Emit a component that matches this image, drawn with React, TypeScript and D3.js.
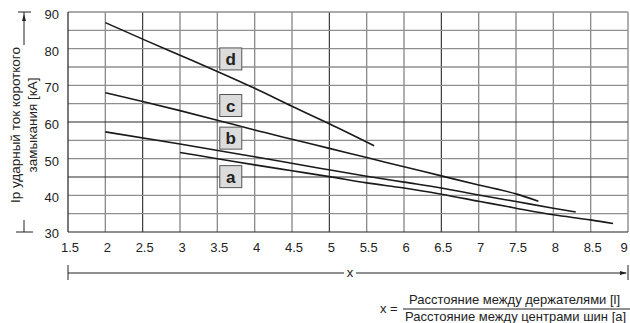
import * as d3 from "d3";
import { useEffect, useRef } from "react";

// x ticks and y ticks
const xTicks = [1.5, 2, 2.5, 3, 3.5, 4, 4.5, 5, 5.5, 6, 6.5, 7, 7.5, 8, 8.5, 9];
const yTicks = [30, 40, 50, 60, 70, 80, 90];
const yGrid = [35, 40, 45, 50, 55, 60, 65, 70, 75, 80, 85, 90];
const darkX = [2.5, 5, 6.5];
const darkY = [45, 60];

// curves
const seriesNames = ["a", "b", "c", "d"];
const xA = [3, 3.5, 4, 4.5, 5, 5.5, 6, 6.5, 7, 7.5, 8, 8.5, 8.8];
const yA = [51.7, 50.0, 48.3, 46.7, 45.1, 43.4, 42.0, 40.3, 38.4, 36.5, 34.7, 33.3, 32.3];
const xB = [2, 3, 4, 4.87, 5.5, 6, 6.5, 7, 7.5, 8, 8.3];
const yB = [57.3, 54.0, 50.5, 47.4, 45.2, 43.6, 42.0, 40.1, 38.3, 36.5, 35.45];
const xC = [2, 2.5, 3, 3.5, 4, 4.5, 5, 5.5, 6, 6.5, 7, 7.5, 7.8];
const yC = [68.0, 65.6, 63.1, 60.5, 57.8, 55.3, 52.8, 50.3, 47.8, 45.3, 42.8, 40.4, 38.4];
const xD = [2, 2.5, 3, 3.5, 4, 4.5, 5, 5.6];
const yD = [87.1, 82.6, 78.2, 73.8, 69.2, 64.3, 59.5, 53.5];

// label boxes (data coords of box centres)
const labelX = [3.68, 3.68, 3.68, 3.68];
const labelY = [45.1, 55.6, 64.5, 77.2];

const yTitle = ["Ip ударный ток короткого", "замыкания [кА]"];
const xName = "x";
const formulaTop = "Расстояние между держателями [l]";
const formulaBottom = "Расстояние между центрами шин [a]";

const FONT = "'Liberation Sans', Arial, sans-serif";

const App = () => {
    const ref = useRef(null);

    useEffect(() => {
        const svg = d3.select(ref.current);
        svg.selectAll("*").remove();

        const margin = { left: 68, right: 2, top: 12, bottom: 91 };
        const W = 630, H = 323;

        const x = d3.scaleLinear().domain([1.5, 9]).range([margin.left, W - margin.right]);
        const y = d3.scaleLinear().domain([30, 90]).range([H - margin.bottom, margin.top]);

        svg.append("rect").attr("width", W).attr("height", H).attr("fill", "#fff");

        // grid
        const g = svg.append("g");
        g.selectAll(".vg")
            .data(xTicks.slice(1))
            .enter()
            .append("line")
            .attr("x1", d => x(d)).attr("x2", d => x(d))
            .attr("y1", y(90)).attr("y2", y(30))
            .attr("stroke", d => darkX.includes(d) ? "#2a2a2a" : "#8f8f8f")
            .attr("stroke-width", d => darkX.includes(d) ? 1.1 : 1.4);
        g.selectAll(".hg")
            .data(yGrid)
            .enter()
            .append("line")
            .attr("x1", x(1.5)).attr("x2", x(9))
            .attr("y1", d => y(d)).attr("y2", d => y(d))
            .attr("stroke", d => darkY.includes(d) ? "#2a2a2a" : "#8f8f8f")
            .attr("stroke-width", d => darkY.includes(d) ? 1.1 : 1.4);

        // axes lines
        g.append("line")
            .attr("x1", x(1.5)).attr("x2", x(1.5))
            .attr("y1", y(90)).attr("y2", y(30))
            .attr("stroke", "#222").attr("stroke-width", 1.2);
        g.append("line")
            .attr("x1", x(1.5)).attr("x2", x(9))
            .attr("y1", y(30)).attr("y2", y(30))
            .attr("stroke", "#222").attr("stroke-width", 1.2);

        // tick labels
        svg.selectAll(".xl")
            .data(xTicks)
            .enter()
            .append("text")
            .attr("x", d => Math.min(x(d) + 2, W - 6))
            .attr("y", y(30) + 20)
            .attr("text-anchor", "middle")
            .attr("font-family", FONT)
            .attr("font-size", 13)
            .attr("fill", "#222")
            .text(d => d);
        svg.selectAll(".yl")
            .data(yTicks)
            .enter()
            .append("text")
            .attr("x", 59)
            .attr("y", d => y(d) + (d === 30 ? 6 : 7))
            .attr("text-anchor", "end")
            .attr("font-family", FONT)
            .attr("font-size", 13)
            .attr("fill", "#222")
            .text(d => d);

        // curves
        const xs = [xA, xB, xC, xD];
        const ys = [yA, yB, yC, yD];
        const line = d3.line().x(d => x(d[0])).y(d => y(d[1])).curve(d3.curveMonotoneX);
        seriesNames.forEach((name, i) => {
            const pts = xs[i].map((v, j) => [v, ys[i][j]]);
            svg.append("path")
                .attr("d", line(pts))
                .attr("fill", "none")
                .attr("stroke", "#1a1a1a")
                .attr("stroke-width", 1.6);
        });

        // label boxes
        seriesNames.forEach((name, i) => {
            const cx = x(labelX[i]);
            const cy = y(labelY[i]);
            svg.append("rect")
                .attr("x", cx - 11).attr("y", cy - 11)
                .attr("width", 22).attr("height", 22)
                .attr("fill", "#dcdcdc")
                .attr("stroke", "#555")
                .attr("stroke-width", 1);
            svg.append("text")
                .attr("x", cx).attr("y", cy + 6)
                .attr("text-anchor", "middle")
                .attr("font-family", FONT)
                .attr("font-weight", "bold")
                .attr("font-size", 17)
                .attr("fill", "#222")
                .text(name);
        });

        // y title
        const yt = svg.append("g").attr("transform", "translate(0,125) rotate(-90)");
        yTitle.forEach((t, i) => {
            yt.append("text")
                .attr("x", 0).attr("y", 20 + i * 17)
                .attr("text-anchor", "middle")
                .attr("font-family", FONT)
                .attr("font-size", 13.5)
                .attr("fill", "#222")
                .text(t);
        });
        const ax = 24;
        svg.append("line").attr("x1", ax).attr("x2", ax).attr("y1", y(90)).attr("y2", 45)
            .attr("stroke", "#222").attr("stroke-width", 1);
        svg.append("line").attr("x1", ax - 6).attr("x2", ax + 7).attr("y1", y(90)).attr("y2", y(90))
            .attr("stroke", "#222").attr("stroke-width", 1);
        svg.append("path").attr("d", `M${ax},${y(90) + 2} l-2,7 l4,0 z`).attr("fill", "#222");
        svg.append("line").attr("x1", ax).attr("x2", ax).attr("y1", 220).attr("y2", y(30))
            .attr("stroke", "#222").attr("stroke-width", 1);
        svg.append("line").attr("x1", ax - 8).attr("x2", ax + 9).attr("y1", y(30)).attr("y2", y(30))
            .attr("stroke", "#222").attr("stroke-width", 1);

        // x arrow
        const ay = 273;
        svg.append("line").attr("x1", x(1.5)).attr("x2", x(1.5)).attr("y1", ay - 8).attr("y2", ay + 7)
            .attr("stroke", "#222").attr("stroke-width", 1);
        svg.append("line").attr("x1", x(9)).attr("x2", x(9)).attr("y1", ay - 8).attr("y2", ay + 7)
            .attr("stroke", "#222").attr("stroke-width", 1);
        svg.append("line").attr("x1", x(1.5)).attr("x2", 344).attr("y1", ay).attr("y2", ay)
            .attr("stroke", "#222").attr("stroke-width", 1);
        svg.append("line").attr("x1", 356).attr("x2", x(9) - 2).attr("y1", ay).attr("y2", ay)
            .attr("stroke", "#222").attr("stroke-width", 1);
        svg.append("path").attr("d", `M${x(9) - 1},${ay} l-7,-2 l0,4 z`).attr("fill", "#222");
        svg.append("text")
            .attr("x", 350).attr("y", ay + 4)
            .attr("text-anchor", "middle")
            .attr("font-family", FONT).attr("font-size", 13).attr("fill", "#222")
            .text(xName);

        // formula
        svg.append("text")
            .attr("x", 380).attr("y", 313)
            .attr("font-family", FONT).attr("font-size", 13).attr("fill", "#222")
            .text("x =");
        svg.append("text")
            .attr("x", 409).attr("y", 304)
            .attr("font-family", FONT).attr("font-size", 13).attr("fill", "#222")
            .text(formulaTop);
        svg.append("line").attr("x1", 403).attr("x2", 630).attr("y1", 309).attr("y2", 309)
            .attr("stroke", "#222").attr("stroke-width", 1);
        svg.append("text")
            .attr("x", 405).attr("y", 321)
            .attr("font-family", FONT).attr("font-size", 13).attr("fill", "#222")
            .text(formulaBottom);
    }, []);

    return (
        <svg ref={ref} width={630} height={323}
            style={{ position: "absolute", left: 0, top: 0, display: "block" }} />
    );
};

export default App;
